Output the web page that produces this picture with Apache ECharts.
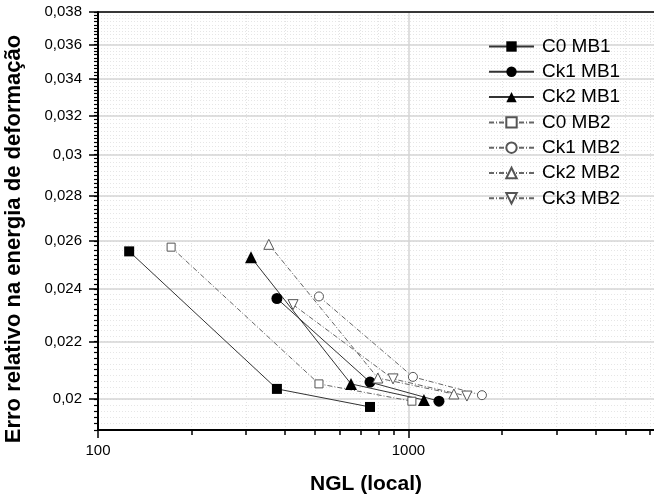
<!DOCTYPE html>
<html><head><meta charset="utf-8">
<script src="https://cdn.jsdelivr.net/npm/echarts@6/dist/echarts.min.js"></script>
<style>html,body{margin:0;padding:0;background:#fff}#c{width:654px;height:499px}</style>
</head><body><div id="c"></div>
<script>
const seriesNames = ['C0 MB1','Ck1 MB1','Ck2 MB1','C0 MB2','Ck1 MB2','Ck2 MB2','Ck3 MB2'];
const c0mb1X = [126, 377, 752];
const c0mb1Y = [0.02555, 0.02034, 0.01974];
const ck1mb1X = [377, 752, 1254];
const ck1mb1Y = [0.02363, 0.02057, 0.01993];
const ck2mb1X = [311, 653, 1122];
const ck2mb1Y = [0.02530, 0.02051, 0.01997];
const c0mb2X = [172, 515, 1026];
const c0mb2Y = [0.02573, 0.02051, 0.01993];
const ck1mb2X = [515, 1034, 1725];
const ck1mb2Y = [0.02371, 0.02075, 0.02013];
const ck2mb2X = [355, 797, 1401];
const ck2mb2Y = [0.02585, 0.02071, 0.02017];
const ck3mb2X = [425, 892, 1543];
const ck3mb2Y = [0.02339, 0.02068, 0.02010];

const xTickValues = [100, 1000];
const xTickLabels = ['100', '1000'];
const xMinorValues = [200, 300, 400, 500, 600, 700, 800, 900, 2000, 3000, 4000, 5000, 6000];
const yTickValues = [0.020, 0.022, 0.024, 0.026, 0.028, 0.030, 0.032, 0.034, 0.036, 0.038];
const yTickLabels = ['0,02', '0,022', '0,024', '0,026', '0,028', '0,03', '0,032', '0,034', '0,036', '0,038'];
const yMinorValues = [];
for (let k = 190; k <= 380; k += 2) yMinorValues.push(k / 10000);

const xTitle = 'NGL (local)';
const yTitle = 'Erro relativo na energia de deformação';

const FONT = 'Liberation Sans';
const X_MIN = 100, X_MAX = 6180, Y_MIN = 0.019, Y_MAX = 0.038;

function zip(xs, ys) { return xs.map((x, i) => [x, ys[i]]); }

const solidLine = { color: '#333', width: 1, type: 'solid' };
const dashDot = { color: '#666', width: 1, type: [5, 2, 1, 2] };
const filled = { color: '#000' };
const open = { color: '#fff', borderColor: '#555', borderWidth: 1 };

const seriesDefs = [
  { name: seriesNames[0], x: c0mb1X, y: c0mb1Y, symbol: 'rect', size: 10, line: solidLine, item: filled },
  { name: seriesNames[1], x: ck1mb1X, y: ck1mb1Y, symbol: 'circle', size: 11, line: solidLine, item: filled },
  { name: seriesNames[2], x: ck2mb1X, y: ck2mb1Y, symbol: 'triangle', size: 12, line: solidLine, item: filled },
  { name: seriesNames[3], x: c0mb2X, y: c0mb2Y, symbol: 'rect', size: 8, line: dashDot, item: open },
  { name: seriesNames[4], x: ck1mb2X, y: ck1mb2Y, symbol: 'circle', size: 9, line: dashDot, item: open },
  { name: seriesNames[5], x: ck2mb2X, y: ck2mb2Y, symbol: 'triangle', size: 10, line: dashDot, item: open },
  { name: seriesNames[6], x: ck3mb2X, y: ck3mb2Y, symbol: 'triangle', size: 10, rotate: 180, line: dashDot, item: open }
];

const chart = echarts.init(document.getElementById('c'), null, { renderer: 'canvas' });
chart.setOption({
  animation: false,
  backgroundColor: '#fff',
  grid: { left: 98, right: 0, top: 12, bottom: 69 },
  xAxis: [
    {
      type: 'log', logBase: 10, min: X_MIN, max: X_MAX, position: 'bottom',
      axisLine: { show: false },
      axisTick: { show: true, customValues: xMinorValues, length: 5, lineStyle: { color: '#000', width: 1.5 } },
      axisLabel: { show: false },
      splitLine: { show: true, lineStyle: { color: '#e3e3e3', width: 1, type: [1, 2] } },
      minorTick: { show: false }, minorSplitLine: { show: false }
    },
    {
      type: 'log', logBase: 10, min: X_MIN, max: X_MAX, position: 'bottom',
      axisLine: { show: true, onZero: false, lineStyle: { color: '#000', width: 2 } },
      axisTick: { show: true, customValues: xTickValues, length: 8, lineStyle: { color: '#000', width: 1.5 } },
      axisLabel: {
        customValues: xTickValues, margin: 13, fontSize: 15, color: '#000', fontFamily: FONT,
        formatter: v => xTickLabels[xTickValues.indexOf(Math.round(v))] ?? ''
      },
      splitLine: { show: true, lineStyle: { color: '#d4d4d4', width: 1.5 } }
    },
    {
      type: 'log', logBase: 10, min: X_MIN, max: X_MAX, position: 'top',
      axisLine: { show: true, onZero: false, lineStyle: { color: '#000', width: 1.5 } },
      axisTick: { show: false }, axisLabel: { show: false }, splitLine: { show: false }
    }
  ],
  yAxis: [
    {
      type: 'log', logBase: 10, min: Y_MIN, max: Y_MAX, position: 'left',
      axisLine: { show: false },
      axisTick: { show: true, customValues: yMinorValues, length: 4, lineStyle: { color: '#000', width: 1.2 } },
      axisLabel: { show: false },
      splitLine: { show: true, lineStyle: { color: '#e6e6e6', width: 1, type: [1, 2] } },
      minorTick: { show: false }, minorSplitLine: { show: false }
    },
    {
      type: 'log', logBase: 10, min: Y_MIN, max: Y_MAX, position: 'left',
      axisLine: { show: true, onZero: false, lineStyle: { color: '#000', width: 2 } },
      axisTick: { show: true, customValues: yTickValues, length: 9, lineStyle: { color: '#000', width: 1.5 } },
      axisLabel: {
        customValues: yTickValues, margin: 16, fontSize: 15, color: '#000', fontFamily: FONT,
        formatter: v => {
          let best = 0, bd = Infinity;
          yTickValues.forEach((t, i) => { const d = Math.abs(t - v); if (d < bd) { bd = d; best = i; } });
          return yTickLabels[best];
        }
      },
      splitLine: { show: true, lineStyle: { color: '#d4d4d4', width: 1.5 } }
    }
  ],
  legend: {
    orient: 'vertical', left: 488, top: 37, padding: 0,
    itemWidth: 45, itemHeight: 13, itemGap: 6.3,
    textStyle: { fontSize: 19, color: '#000', fontFamily: FONT, padding: [0, 0, 0, 3] },
    data: seriesNames
  },
  graphic: [
    { type: 'text', x: 366, y: 484, style: { text: xTitle, font: 'bold 21px "Liberation Sans"', fill: '#000', align: 'center', verticalAlign: 'middle' } },
    { type: 'text', x: 14, y: 239, rotation: Math.PI / 2, style: { text: yTitle, font: 'bold 22px "Liberation Sans"', fill: '#000', align: 'center', verticalAlign: 'middle' } }
  ],
  series: seriesDefs.map(d => ({
    type: 'line', name: d.name, xAxisIndex: 0, yAxisIndex: 0,
    data: zip(d.x, d.y),
    symbol: d.symbol, symbolSize: d.size, symbolRotate: d.rotate || 0,
    showAllSymbol: true,
    lineStyle: d.line, itemStyle: d.item,
    emphasis: { disabled: true }, z: 3
  }))
});
</script></body></html>
